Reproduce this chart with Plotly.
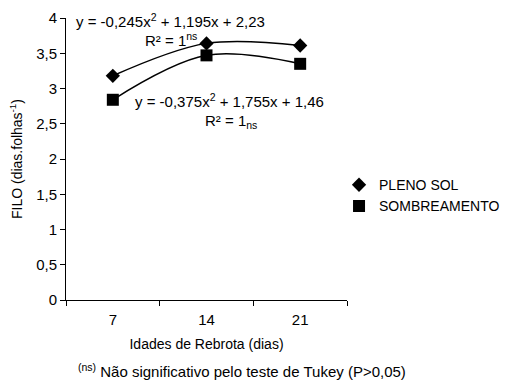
import plotly.graph_objects as go

categories = ["7", "14", "21"]
pleno_sol = [3.18, 3.64, 3.61]
sombreamento = [2.84, 3.47, 3.35]
y_ticks = [0, 0.5, 1, 1.5, 2, 2.5, 3, 3.5, 4]

FONT = "Liberation Sans, Arial, sans-serif"
FS = 14
AFS = 15

fig = go.Figure()
# trend lines
fig.add_trace(go.Scatter(x=categories, y=pleno_sol, mode="lines", line=dict(color="black", width=1.5, shape="spline"),
                         showlegend=False, hoverinfo="skip"))
fig.add_trace(go.Scatter(x=categories, y=sombreamento, mode="lines", line=dict(color="black", width=1.5, shape="spline"),
                         showlegend=False, hoverinfo="skip"))
# markers
fig.add_trace(go.Scatter(x=categories, y=pleno_sol, mode="markers", name="PLENO SOL",
                         marker=dict(symbol="diamond", size=11, color="black")))
fig.add_trace(go.Scatter(x=categories, y=sombreamento, mode="markers", name="SOMBREAMENTO",
                         marker=dict(symbol="square", size=12, color="black")))

fig.update_layout(
    width=508, height=385,
    margin=dict(l=66, r=161, t=18, b=85, autoexpand=False),
    paper_bgcolor="white", plot_bgcolor="white",
    font=dict(family=FONT, size=FS, color="black"),
    separators=", ",
    legend=dict(x=(340 - 66) / 282, y=0.37, xanchor="left", yanchor="middle", itemwidth=30,
                font=dict(size=FS), tracegroupgap=0, bgcolor="rgba(0,0,0,0)"),
    xaxis=dict(type="category", range=[-0.5, 2.5], showline=True, linecolor="black", linewidth=1,
               ticks="outside", ticklen=5, tickcolor="black", tickson="boundaries",
               ticklabelstandoff=6,
               showgrid=False, zeroline=False, tickfont=dict(size=15),
               title=dict(text="Idades de Rebrota (dias)", font=dict(size=FS), standoff=12)),
    yaxis=dict(range=[0, 4], tickvals=y_ticks, showline=True, linecolor="black", linewidth=1,
               ticks="outside", ticklen=5, tickcolor="black", showgrid=False, zeroline=False,
               tickfont=dict(size=15),
               title=dict(text="FILO (dias.folhas<sup>-1</sup>)", font=dict(size=FS), standoff=10)),
)

fig.add_annotation(text="y = -0,245x<sup>2</sup> + 1,195x + 2,23", xref="paper", yref="paper",
                   x=(74 - 66) / 282, y=(300 - 20) / 282, xanchor="left", yanchor="middle",
                   showarrow=False, font=dict(size=AFS))
fig.add_annotation(text="R² = 1<sup>ns</sup>", xref="paper", yref="paper",
                   x=(143 - 66) / 282, y=(300 - 39) / 282, xanchor="left", yanchor="middle",
                   showarrow=False, font=dict(size=AFS))
fig.add_annotation(text="y = -0,375x<sup>2</sup> + 1,755x + 1,46", xref="paper", yref="paper",
                   x=(133 - 66) / 282, y=(300 - 100) / 282, xanchor="left", yanchor="middle",
                   showarrow=False, font=dict(size=AFS))
fig.add_annotation(text="R² = 1<sub>ns</sub>", xref="paper", yref="paper",
                   x=(203 - 66) / 282, y=(300 - 121) / 282, xanchor="left", yanchor="middle",
                   showarrow=False, font=dict(size=AFS))
fig.add_annotation(text="<sup>(ns)</sup> Não significativo pelo teste de Tukey (P>0,05)", xref="paper", yref="paper",
                   x=(76 - 66) / 282, y=(300 - 370) / 282, xanchor="left", yanchor="middle",
                   showarrow=False, font=dict(size=AFS))

fig.write_html("out.html")
